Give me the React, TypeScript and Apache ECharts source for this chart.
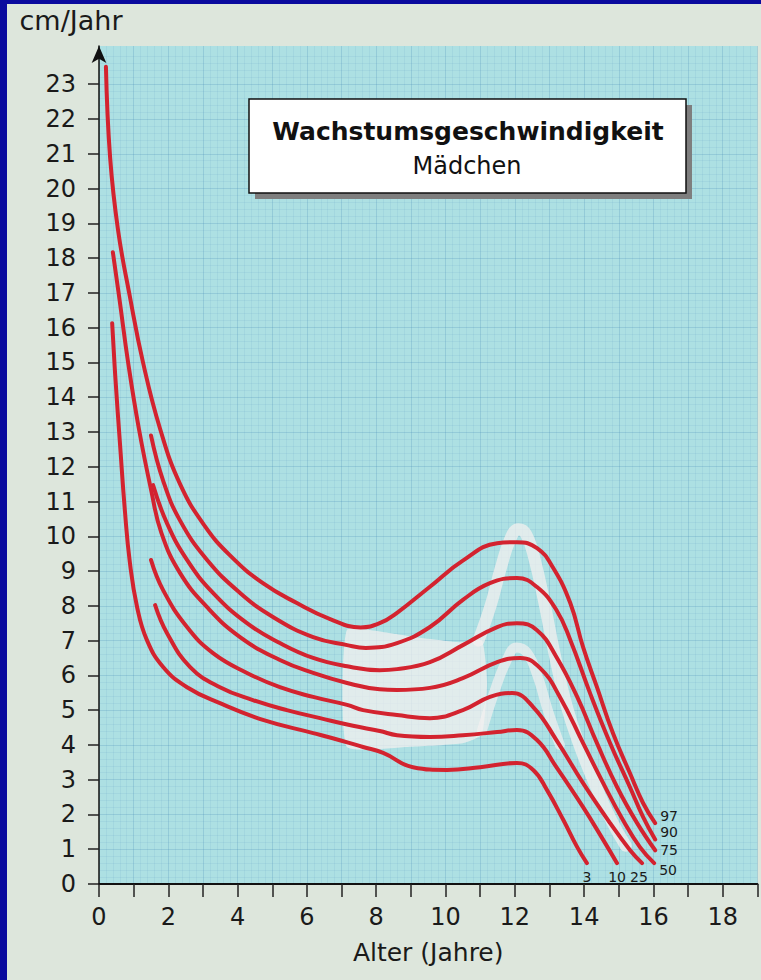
import React, { useEffect, useRef } from 'react';
import * as echarts from 'echarts';

const FONT = '"DejaVu Sans", "Liberation Sans", sans-serif';
const RED = '#d3232f';
const WHITE = '#f5f0f0';
const INK = '#1a1a1a';

// Axis ticks and labels
const xTickValues = [0, 1, 2, 3, 4, 5, 6, 7, 8, 9, 10, 11, 12, 13, 14, 15, 16, 17, 18, 19];
const xLabelValues = [0, 2, 4, 6, 8, 10, 12, 14, 16, 18];
const yTickValues = [0, 1, 2, 3, 4, 5, 6, 7, 8, 9, 10, 11, 12, 13, 14, 15, 16, 17, 18, 19, 20, 21, 22, 23];

// Percentile curves: [Alter (Jahre), cm/Jahr]
const p97 = [[0.2, 23.5], [0.32, 20.9], [0.55, 18.8], [0.89, 16.9], [1.27, 15.0], [1.76, 13.1], [2.34, 11.5], [3.05, 10.3], [3.78, 9.45], [4.73, 8.65], [5.71, 8.08], [6.67, 7.62], [7.55, 7.38], [8.1, 7.5], [8.6, 7.8], [9.55, 8.55], [10.5, 9.3], [11.49, 9.8], [12.06, 9.83], [12.64, 9.66], [13.1, 9.1], [13.6, 8.08], [13.97, 6.81], [14.37, 5.66], [14.83, 4.34], [15.32, 3.19], [15.7, 2.33], [16.05, 1.75]];
const p90 = [[1.5, 12.9], [1.85, 11.6], [2.34, 10.45], [3.12, 9.32], [4.07, 8.37], [5.02, 7.68], [6.18, 7.1], [7.16, 6.87], [7.7, 6.79], [8.6, 6.93], [9.55, 7.39], [10.5, 8.17], [11.28, 8.65], [12.06, 8.8], [12.64, 8.54], [13.2, 7.88], [13.6, 7.02], [14.17, 5.49], [14.75, 4.05], [15.32, 2.79], [15.7, 1.93], [16.05, 1.28]];
const p75 = [[1.56, 11.47], [1.96, 10.38], [2.54, 9.32], [3.29, 8.37], [4.27, 7.5], [5.22, 6.93], [6.18, 6.5], [7.16, 6.26], [8.1, 6.15], [8.6, 6.18], [9.55, 6.38], [10.5, 6.87], [11.49, 7.39], [12.06, 7.5], [12.64, 7.3], [13.2, 6.53], [13.8, 5.38], [14.37, 4.05], [14.95, 2.79], [15.53, 1.75], [16.05, 0.97]];
const p50 = [[0.4, 18.17], [0.6, 16.75], [0.84, 15.0], [1.15, 13.1], [1.5, 11.35], [1.8, 10.1], [2.34, 8.94], [3.12, 7.96], [4.07, 7.1], [5.22, 6.44], [6.18, 6.07], [7.16, 5.78], [8.1, 5.6], [8.6, 5.58], [9.55, 5.64], [10.5, 5.92], [11.49, 6.38], [12.15, 6.5], [12.73, 6.21], [13.3, 5.38], [13.97, 4.05], [14.55, 2.9], [15.12, 1.84], [15.61, 1.06], [16.02, 0.6]];
const p25 = [[1.5, 9.32], [1.85, 8.45], [2.54, 7.39], [3.29, 6.64], [4.27, 6.07], [5.22, 5.66], [6.18, 5.38], [7.16, 5.15], [7.62, 5.0], [8.6, 4.86], [9.55, 4.77], [10.5, 5.0], [11.28, 5.38], [11.92, 5.49], [12.53, 5.09], [13.2, 4.14], [13.97, 2.9], [14.75, 1.75], [15.32, 0.98], [15.67, 0.6]];
const p10 = [[1.62, 8.02], [1.96, 7.22], [2.63, 6.24], [3.49, 5.66], [4.44, 5.29], [5.42, 5.0], [6.38, 4.77], [7.33, 4.55], [8.1, 4.4], [8.6, 4.28], [9.55, 4.23], [10.5, 4.28], [11.49, 4.37], [12.06, 4.43], [12.64, 4.14], [13.2, 3.36], [13.97, 2.21], [14.55, 1.27], [14.95, 0.6]];
const p3 = [[0.38, 16.13], [0.47, 14.6], [0.61, 12.6], [0.75, 10.7], [0.89, 9.25], [1.1, 7.96], [1.38, 7.02], [1.85, 6.24], [2.54, 5.66], [3.49, 5.2], [4.73, 4.72], [6.18, 4.34], [7.0, 4.12], [7.62, 3.94], [8.2, 3.77], [9.06, 3.36], [10.04, 3.28], [11.0, 3.36], [12.06, 3.48], [12.53, 3.28], [12.93, 2.7], [13.4, 1.84], [13.8, 1.06], [14.08, 0.6]];

// Light shaded zone (individual pubertal growth spurt range)
const whitePlateau = [[7.15, 3.95], [7.15, 7.3], [8.5, 7.2], [9.5, 7.05], [10.4, 6.95], [11.05, 7.0], [11.2, 5.8], [11.05, 4.3], [10.5, 4.05], [9.0, 3.95]];
const whitePeakHigh = [[10.95, 7.0], [11.3, 8.0], [11.6, 9.1], [11.88, 9.95], [12.1, 10.2], [12.33, 10.05], [12.58, 9.3], [12.85, 8.1], [13.15, 6.6], [13.5, 5.1], [13.9, 3.9], [14.3, 2.9], [14.8, 1.8], [15.2, 1.1]];
const whitePeakLow = [[11.05, 4.4], [11.4, 5.5], [11.75, 6.4], [12.05, 6.8], [12.35, 6.65], [12.65, 6.0], [12.95, 5.0], [13.3, 4.0]];

const curves = [
  { name: '97', data: p97, label: { distance: 5, verticalAlign: 'bottom' } },
  { name: '90', data: p90, label: { distance: 5, verticalAlign: 'bottom' } },
  { name: '75', data: p75, label: { distance: 5, verticalAlign: 'middle' } },
  { name: '50', data: p50, label: { distance: 5, verticalAlign: 'top' } },
  { name: '25', data: p25, label: { distance: -3, align: 'center', verticalAlign: 'top', lineHeight: 27 } },
  { name: '10', data: p10, label: { distance: 0, align: 'center', verticalAlign: 'top', lineHeight: 27 } },
  { name: '3', data: p3, label: { distance: 0, align: 'center', verticalAlign: 'top', lineHeight: 27 } },
];

export default function App() {
  const ref = useRef<HTMLDivElement>(null);

  useEffect(() => {
    const chart = echarts.init(ref.current as HTMLDivElement, null, { renderer: 'svg' });
    const option: any = {
      animation: false,
      grid: {
        left: 99,
        right: 3.6,
        top: 46,
        bottom: 96,
        show: true,
        backgroundColor: '#ade0e3',
        borderWidth: 0,
        outerBoundsMode: 'none',
      },
      xAxis: {
        type: 'value',
        min: 0,
        max: 19,
        interval: 1,
        name: 'Alter (Jahre)',
        nameLocation: 'middle',
        nameGap: 56,
        nameTextStyle: { fontFamily: FONT, fontSize: 25, color: INK },
        axisLine: { show: true, lineStyle: { color: '#111', width: 2 } },
        axisTick: { show: true, length: 13, customValues: xTickValues, lineStyle: { color: '#222', width: 1.5 } },
        axisLabel: {
          customValues: xLabelValues,
          formatter: (v: number) => (v % 2 === 0 && v <= 18 ? String(v) : ''),
          fontFamily: FONT,
          fontSize: 24,
          color: INK,
          margin: 21,
        },
        splitLine: { show: true, lineStyle: { color: 'rgba(70,140,185,0.24)', width: 1 } },
        minorTick: { show: false, splitNumber: 5 },
        minorSplitLine: { show: true, lineStyle: { color: 'rgba(80,150,190,0.11)', width: 1 } },
      },
      yAxis: {
        type: 'value',
        min: 0,
        max: 24.1,
        interval: 1,
        name: 'cm/Jahr',
        nameLocation: 'end',
        nameGap: 12,
        nameTextStyle: { fontFamily: FONT, fontSize: 27, color: INK, align: 'center', padding: [0, 56, 0, 0] },
        axisLine: { show: true, symbol: ['none', 'arrow'], symbolSize: [11, 17], lineStyle: { color: '#111', width: 1.5 } },
        axisTick: { show: true, length: 11, customValues: yTickValues, lineStyle: { color: '#222', width: 1.5 } },
        axisLabel: {
          customValues: yTickValues,
          formatter: (v: number) => (Number.isInteger(v) && v <= 23 ? String(v) : ''),
          fontFamily: FONT,
          fontSize: 24,
          color: INK,
          margin: 23,
        },
        splitLine: { show: true, lineStyle: { color: 'rgba(70,140,185,0.24)', width: 1 } },
        minorTick: { show: false, splitNumber: 5 },
        minorSplitLine: { show: true, lineStyle: { color: 'rgba(80,150,190,0.11)', width: 1 } },
      },
      series: [
        {
          type: 'custom',
          name: 'zone',
          silent: true,
          z: 1,
          data: [[9, 5]],
          renderItem: (_params: any, api: any) => ({
            type: 'polygon',
            shape: { points: whitePlateau.map((p) => api.coord(p)), smooth: 0.15 },
            style: { fill: WHITE, opacity: 0.72 },
          }),
        },
        {
          type: 'line',
          name: 'zoneHigh',
          data: whitePeakHigh,
          smooth: 0.45,
          symbol: 'none',
          silent: true,
          z: 1,
          lineStyle: { color: WHITE, width: 12, opacity: 0.72, cap: 'round', join: 'round' },
        },
        {
          type: 'line',
          name: 'zoneLow',
          data: whitePeakLow,
          smooth: 0.45,
          symbol: 'none',
          silent: true,
          z: 1,
          lineStyle: { color: WHITE, width: 10, opacity: 0.68, cap: 'round', join: 'round' },
        },
        ...curves.map((c) => ({
          type: 'line',
          name: c.name,
          data: c.data,
          smooth: 0.45,
          symbol: 'none',
          showSymbol: false,
          z: 5,
          lineStyle: { color: RED, width: 4, cap: 'round' },
          endLabel: {
            show: true,
            formatter: c.name,
            fontFamily: FONT,
            fontSize: 14,
            color: INK,
            ...c.label,
          },
        })),
      ],
      graphic: [
        { type: 'rect', silent: true, z: 10, shape: { x: 255, y: 105, width: 437, height: 94 }, style: { fill: '#7e7e7e' } },
        { type: 'rect', silent: true, z: 11, shape: { x: 249, y: 99, width: 437, height: 94 }, style: { fill: '#ffffff', stroke: '#111', lineWidth: 1.5 } },
        {
          type: 'text', silent: true, z: 12, x: 468, y: 131,
          style: { text: 'Wachstumsgeschwindigkeit', fontFamily: FONT, fontWeight: 'bold', fontSize: 25, fill: '#111', align: 'center', verticalAlign: 'middle' },
        },
        {
          type: 'text', silent: true, z: 12, x: 467, y: 166,
          style: { text: 'Mädchen', fontFamily: FONT, fontSize: 24, fill: '#111', align: 'center', verticalAlign: 'middle' },
        },
      ],
    };
    chart.setOption(option);
    return () => chart.dispose();
  }, []);

  return (
    <div style={{ position: 'absolute', left: 0, top: 0, width: 761, height: 980, background: '#0a0a9e', overflow: 'hidden' }}>
      <div style={{ position: 'absolute', left: 7, top: 4, right: 0, bottom: 0, background: '#dde6dc' }} />
      <div ref={ref} style={{ position: 'absolute', left: 0, top: 0, width: 761, height: 980 }} />
    </div>
  );
}
